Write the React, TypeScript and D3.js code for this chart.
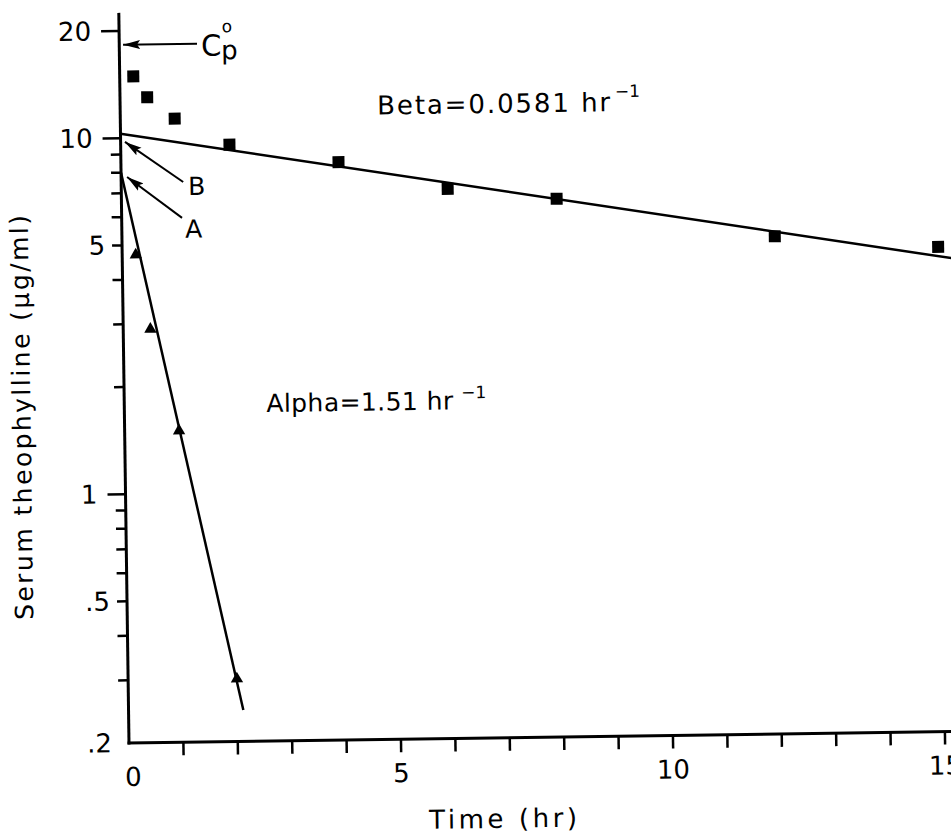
import React, { useEffect, useRef } from "react";
import * as d3 from "d3";

// squares: observed serum levels
const betaTimes = [0.25, 0.5, 1, 2, 4, 6, 8, 12, 15];
const betaConc = [14.9, 13.0, 11.3, 9.5, 8.4, 7.0, 6.5, 5.0, 4.6];
// triangles: residuals (alpha phase)
const alphaTimes = [0.25, 0.5, 1, 2];
const alphaConc = [4.7, 2.9, 1.5, 0.3];

// fitted lines, ends
const betaLineT = [0, 15.25];
const betaLineC = [10.3, 4.27];
const alphaLineT = [0, 2.11];
const alphaLineC = [8.0, 0.245];

const B = 10.3;
const A = 8.0;
const cp0 = A + B;

const yMajor = [20, 10, 5, 1, 0.5, 0.2];
const yLong = [20, 10, 1];
const yMinor = [9, 8, 7, 6, 4, 3, 2, 0.9, 0.8, 0.7, 0.6, 0.4, 0.3];
const xTicks = [1, 2, 3, 4, 5, 6, 7, 8, 9, 10, 11, 12, 13, 14, 15];
const xLabels = [0, 5, 10, 15];
const yLabels = ["20", "10", "5", "1", ".5", ".2"];

const App = () => {
  const ref = useRef<SVGSVGElement>(null);

  useEffect(() => {
    drawChart();
  }, []);

  const drawChart = () => {
    const svg = d3.select(ref.current);
    svg.selectAll("*").remove();

    const x = d3.scaleLinear().domain([0, 15]).range([129, 945]);
    const y = d3.scaleLog().domain([0.2, 20]).range([743, 31]);
    const x0 = x(0);
    const yb = y(0.2);

    const defs = svg.append("defs");
    defs.append("marker")
      .attr("id", "head")
      .attr("viewBox", "0 0 17 10")
      .attr("refX", 17)
      .attr("refY", 5)
      .attr("markerWidth", 17)
      .attr("markerHeight", 10)
      .attr("markerUnits", "userSpaceOnUse")
      .attr("orient", "auto")
      .append("path")
      .attr("d", "M0,0.5L17,5L0,9.5L3,5Z")
      .attr("fill", "#000");

    // the scan is tilted a little
    const g = svg.append("g")
      .attr("transform", `rotate(-0.8 ${x0} ${yb})`)
      .attr("font-family", "DejaVu Sans, sans-serif")
      .attr("fill", "#000");

    // axes
    g.append("line")
      .attr("x1", x0).attr("x2", x0)
      .attr("y1", yb + 1.5).attr("y2", y(22.5))
      .attr("stroke", "#000").attr("stroke-width", 3);
    g.append("line")
      .attr("x1", x0 - 1.5).attr("x2", x(15.8))
      .attr("y1", yb).attr("y2", yb)
      .attr("stroke", "#000").attr("stroke-width", 3);

    // y ticks
    yMajor.filter(v => v !== 0.2).forEach(v => {
      const len = yLong.includes(v) ? 18 : 10;
      g.append("line")
        .attr("x1", x0 - len).attr("x2", x0)
        .attr("y1", y(v)).attr("y2", y(v))
        .attr("stroke", "#000").attr("stroke-width", 2.5);
    });
    yMinor.forEach(v => {
      g.append("line")
        .attr("x1", x0 - 10).attr("x2", x0)
        .attr("y1", y(v)).attr("y2", y(v))
        .attr("stroke", "#000").attr("stroke-width", 2.5);
    });
    yMajor.forEach((v, i) => {
      const off = yLong.includes(v) ? 28 : 17;
      g.append("text")
        .attr("x", x0 - off)
        .attr("y", y(v) + 9)
        .attr("text-anchor", "end")
        .attr("font-size", 26)
        .text(yLabels[i]);
    });

    // x ticks
    xTicks.forEach(t => {
      g.append("line")
        .attr("x1", x(t)).attr("x2", x(t))
        .attr("y1", yb).attr("y2", yb + 13)
        .attr("stroke", "#000").attr("stroke-width", 2.5);
    });
    xLabels.forEach(t => {
      g.append("text")
        .attr("x", x(t) + (t === 0 ? 4 : 0))
        .attr("y", yb + 43)
        .attr("text-anchor", "middle")
        .attr("font-size", 26)
        .text(t);
    });

    // axis titles
    g.append("text")
      .attr("x", 428).attr("y", 833)
      .attr("font-size", 26)
      .attr("textLength", 148)
      .attr("lengthAdjust", "spacing")
      .text("Time (hr)");
    g.append("text")
      .attr("transform", "translate(35,416) rotate(-90)")
      .attr("text-anchor", "middle")
      .attr("font-size", 25)
      .attr("textLength", 405)
      .attr("lengthAdjust", "spacing")
      .text("Serum theophylline (μg/ml)");

    // fitted lines
    const line = d3.line<number>()
      .x(d => x(d[0]))
      .y(d => y(d[1]));
    g.append("path")
      .datum(betaLineT.map((t, i) => [t, betaLineC[i]]))
      .attr("fill", "none").attr("stroke", "#000").attr("stroke-width", 2.5)
      .attr("d", line as any);
    g.append("path")
      .datum(alphaLineT.map((t, i) => [t, alphaLineC[i]]))
      .attr("fill", "none").attr("stroke", "#000").attr("stroke-width", 2.5)
      .attr("d", line as any);

    // points
    const sq = 12;
    betaTimes.forEach((t, i) => {
      g.append("rect")
        .attr("x", x(t) - sq / 2).attr("y", y(betaConc[i]) - sq / 2)
        .attr("width", sq).attr("height", sq)
        .attr("fill", "#000");
    });
    const tri = d3.symbol(d3.symbolTriangle, 66);
    alphaTimes.forEach((t, i) => {
      g.append("path")
        .attr("transform", `translate(${x(t)},${y(alphaConc[i])})`)
        .attr("d", tri()!)
        .attr("fill", "#000");
    });

    // arrows
    const arrows = [
      { from: [1.43, cp0], to: [0.07, cp0] },
      { from: [1.14, 7.49], to: [0.08, 9.76] },
      { from: [1.11, 5.94], to: [0.11, 7.78] },
    ];
    arrows.forEach(a => {
      g.append("line")
        .attr("x1", x(a.from[0])).attr("y1", y(a.from[1]))
        .attr("x2", x(a.to[0])).attr("y2", y(a.to[1]))
        .attr("stroke", "#000").attr("stroke-width", 2)
        .attr("marker-end", "url(#head)");
    });

    // labels for arrows: C with sub p and sup o
    const cx = x(arrows[0].from[0]);
    const cy = y(arrows[0].from[1]);
    g.append("text").attr("x", cx + 4).attr("y", cy + 12).attr("font-size", 29).text("C");
    g.append("text").attr("x", cx + 25).attr("y", cy - 11).attr("font-size", 17).text("o");
    g.append("text").attr("x", cx + 24).attr("y", cy + 16).attr("font-size", 26).text("p");

    g.append("text")
      .attr("x", x(arrows[1].from[0]) + 5).attr("y", y(arrows[1].from[1]) + 13)
      .attr("font-size", 25).text("B");
    g.append("text")
      .attr("x", x(arrows[2].from[0]) + 3).attr("y", y(arrows[2].from[1]) + 20)
      .attr("font-size", 25).text("A");

    // rate constants
    g.append("text")
      .attr("x", 386).attr("y", 118)
      .attr("font-size", 26)
      .attr("textLength", 233)
      .attr("lengthAdjust", "spacing")
      .text("Beta=0.0581 hr");
    g.append("text")
      .attr("x", 624).attr("y", 104)
      .attr("font-size", 17)
      .text("−1");
    g.append("text")
      .attr("x", 271).attr("y", 414)
      .attr("font-size", 25)
      .attr("textLength", 187)
      .attr("lengthAdjust", "spacing")
      .text("Alpha=1.51 hr");
    g.append("text")
      .attr("x", 466).attr("y", 403)
      .attr("font-size", 17)
      .text("−1");
  };

  return (
    <>
      <style>{"body{margin:0}"}</style>
      <svg ref={ref} width={951} height={834} style={{ display: "block", background: "#fff" }} />
    </>
  );
};

export default App;
